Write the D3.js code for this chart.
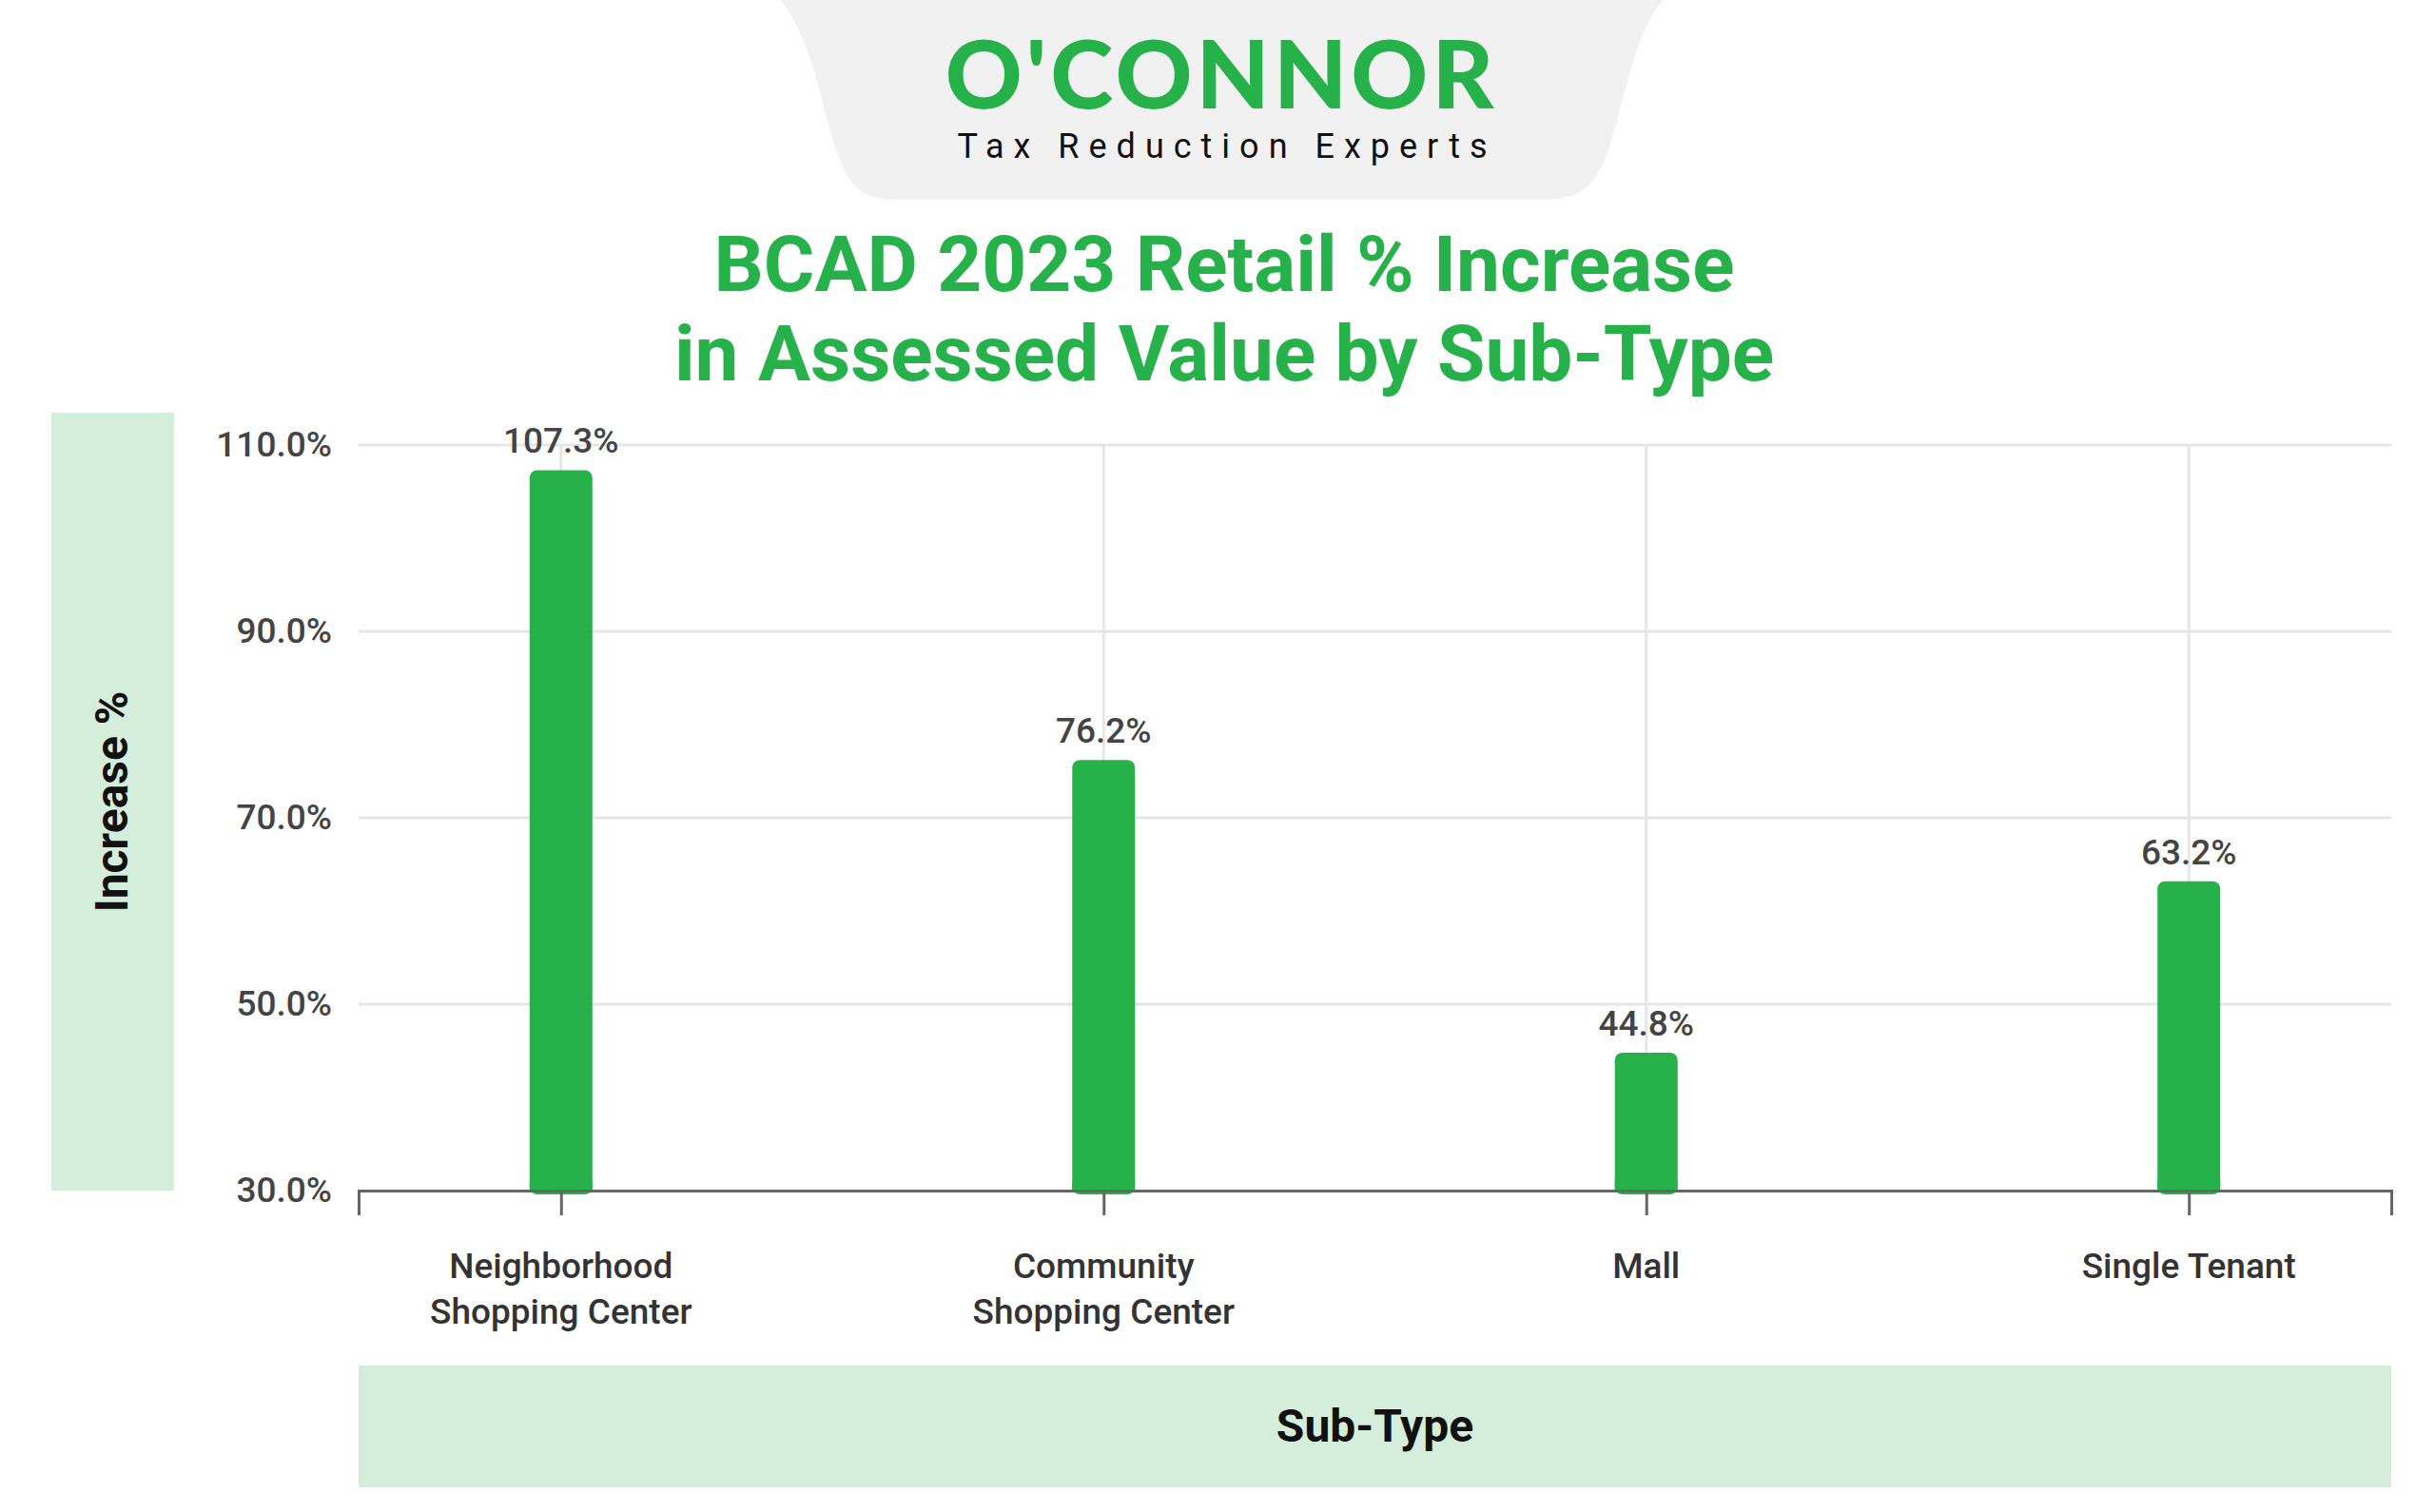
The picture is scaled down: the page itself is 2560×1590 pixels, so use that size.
<!DOCTYPE html>
<html><head><meta charset="utf-8">
<script src="https://cdn.jsdelivr.net/npm/d3@7"></script>
<style>body{margin:0;background:#fff;font-family:Roboto,sans-serif}</style>
</head><body><svg id="chart"></svg>
<script>
const categories = [["Neighborhood", "Shopping Center"], ["Community", "Shopping Center"], ["Mall"], ["Single Tenant"]];
const values = [107.3, 76.2, 44.8, 63.2];
const yTicks = [30, 50, 70, 90, 110];

const W = 2560, H = 1590;
const m = { left: 377, right: 46, top: 468, bottom: 338 };
const green = "#27b14b";

const svg = d3.select("#chart").attr("width", W).attr("height", H);

// logo plate
svg.append("path")
  .attr("d", "M820,0 L1748,0 C1715,40 1705,120 1690,160 C1675,205 1650,210 1620,210 L945,210 C915,210 895,205 880,160 C865,120 855,40 820,0 Z")
  .attr("fill", "#f1f1f1");
svg.append("text").attr("x", 1284).attr("y", 114).attr("text-anchor", "middle")
  .attr("font-size", 100).attr("font-weight", 900).attr("fill", green)
  .attr("font-family", "Lato, sans-serif").attr("letter-spacing", 4).text("O'CONNOR");
svg.append("text").attr("x", 1290).attr("y", 166).attr("text-anchor", "middle")
  .attr("font-size", 36).attr("fill", "#111").attr("letter-spacing", 10).text("Tax Reduction Experts");

// title
const title = ["BCAD 2023 Retail % Increase", "in Assessed Value by Sub-Type"];
svg.selectAll(".title").data(title).join("text")
  .attr("x", 1287).attr("y", (d, i) => 306 + i * 94).attr("text-anchor", "middle")
  .attr("font-size", 82).attr("font-weight", 700).attr("fill", green).text(d => d);

const x = d3.scalePoint().domain(d3.range(categories.length))
  .range([m.left, W - m.right]).padding(0.373);
const y = d3.scaleLinear().domain([30, 110]).range([H - m.bottom, m.top]);

// axis title bands
svg.append("rect").attr("x", 54).attr("y", 434).attr("width", 129).attr("height", 818).attr("fill", "#d4eedb");
svg.append("text").attr("transform", `translate(134,${(434 + 1252) / 2}) rotate(-90)`)
  .attr("text-anchor", "middle").attr("font-size", 48).attr("font-weight", 700).attr("fill", "#111").text("Increase %");
svg.append("rect").attr("x", m.left).attr("y", 1436).attr("width", W - m.right - m.left).attr("height", 128).attr("fill", "#d4eedb");
svg.append("text").attr("x", (m.left + W - m.right) / 2).attr("y", 1516).attr("text-anchor", "middle")
  .attr("font-size", 48).attr("font-weight", 700).attr("fill", "#111").text("Sub-Type");

// grid
svg.append("g").selectAll("line").data(yTicks.slice(1)).join("line")
  .attr("x1", m.left).attr("x2", W - m.right).attr("y1", d => y(d)).attr("y2", d => y(d))
  .attr("stroke", "#e6e6e6").attr("stroke-width", 3);
svg.append("g").selectAll("line").data(d3.range(categories.length)).join("line")
  .attr("x1", d => x(d)).attr("x2", d => x(d)).attr("y1", y(110)).attr("y2", y(30))
  .attr("stroke", "#e6e6e6").attr("stroke-width", 3);

// y axis
const ya = svg.append("g").attr("transform", `translate(${m.left},0)`)
  .call(d3.axisLeft(y).tickValues(yTicks).tickSize(0).tickPadding(28).tickFormat(d => d.toFixed(1) + "%"));
ya.select(".domain").remove();
ya.selectAll("text").attr("font-size", 37).attr("font-family", "Roboto").attr("font-weight", 500).attr("fill", "#444");

// bars
svg.append("g").selectAll("rect").data(values).join("rect")
  .attr("x", (d, i) => x(i) - 33).attr("width", 66)
  .attr("y", d => y(d)).attr("height", d => y(30) - y(d) + 4)
  .attr("rx", 8).attr("fill", green);
svg.append("g").selectAll("rect").data(values).join("rect")
  .attr("x", (d, i) => x(i) - 33).attr("width", 66)
  .attr("y", y(30) - 10).attr("height", 10).attr("fill", green);
svg.append("g").selectAll("text").data(values).join("text")
  .attr("x", (d, i) => x(i)).attr("y", d => y(d) - 18).attr("text-anchor", "middle")
  .attr("font-size", 37).attr("font-weight", 500).attr("fill", "#444").text(d => d.toFixed(1) + "%");

// x axis
const xa = svg.append("g").attr("transform", `translate(0,${y(30)})`)
  .call(d3.axisBottom(x).tickSizeInner(26).tickSizeOuter(26).tickFormat(() => ""));
xa.selectAll("line, path").attr("stroke", "#666").attr("stroke-width", 3);
svg.append("g").selectAll("text").data(categories).join("text")
  .attr("x", (d, i) => x(i)).attr("y", y(30) + 92).attr("text-anchor", "middle")
  .attr("font-size", 37).attr("font-weight", 500).attr("fill", "#333")
  .selectAll("tspan").data(d => d).join("tspan")
  .attr("x", function () { return this.parentNode.getAttribute("x"); })
  .attr("dy", (d, i) => i ? 48 : 0).text(d => d);
</script></body></html>
